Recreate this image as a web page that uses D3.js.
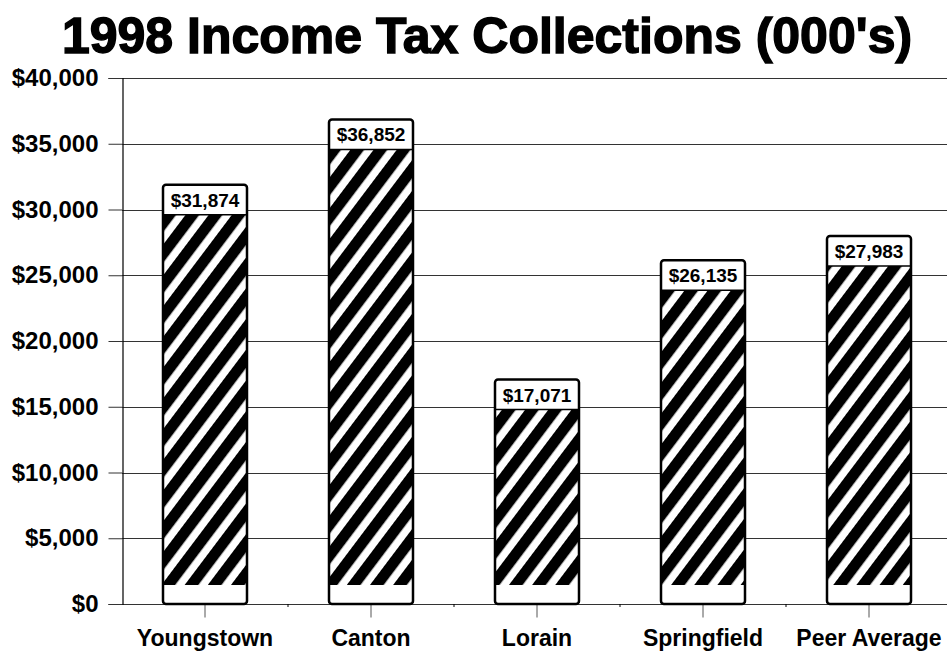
<!DOCTYPE html>
<html>
<head>
<meta charset="utf-8">
<script src="https://cdn.jsdelivr.net/npm/d3@7"></script>
<style>
  html, body { margin: 0; padding: 0; background: #fff; }
  svg { display: block; font-family: "Liberation Sans", Arial, sans-serif; }
</style>
</head>
<body>
<svg id="chart" width="947" height="656"></svg>
<script>
// City income tax collections, thousands of dollars
const cities = ["Youngstown", "Canton", "Lorain", "Springfield", "Peer Average"];
const collections = [31874, 36852, 17071, 26135, 27983];
const yTicks = [0, 5000, 10000, 15000, 20000, 25000, 30000, 35000, 40000];
const chartTitle = "1998 Income Tax Collections (000's)";

const svg = d3.select("#chart");
const margin = { left: 122, right: -5, top: 78, bottom: 52 };
const W = 947, H = 656;

const x = d3.scaleBand()
  .domain(cities)
  .range([margin.left, W - margin.right])
  .paddingInner(0.494)
  .paddingOuter(0.247);

const y = d3.scaleLinear()
  .domain([0, 40000])
  .range([H - margin.bottom, margin.top]);

const fmt = d3.format("$,.0f");

// diagonal hatch fill
const defs = svg.append("defs");
const pat = defs.append("pattern")
  .attr("id", "hatch")
  .attr("patternUnits", "userSpaceOnUse")
  .attr("width", 18.5).attr("height", 18.5)
  .attr("patternTransform", "rotate(37)");
pat.append("rect").attr("width", 18.5).attr("height", 18.5).attr("fill", "#fff");
pat.append("rect").attr("width", 11).attr("height", 18.5).attr("fill", "#000");

// title
svg.append("text")
  .attr("x", 487).attr("y", 53)
  .attr("text-anchor", "middle")
  .attr("font-size", 50).attr("font-weight", "bold")
  .attr("fill", "#000")
  .attr("stroke", "#000").attr("stroke-width", 1.4)
  .text(chartTitle);

// horizontal gridlines
svg.append("g")
  .selectAll("line")
  .data(yTicks)
  .join("line")
  .attr("x1", margin.left).attr("x2", W)
  .attr("y1", d => Math.round(y(d)) + 0.5).attr("y2", d => Math.round(y(d)) + 0.5)
  .attr("stroke", "#333").attr("stroke-width", 1);

// y axis
const yAxis = d3.axisLeft(y)
  .tickValues(yTicks)
  .tickFormat(fmt)
  .tickSize(14)
  .tickPadding(10);
const gy = svg.append("g")
  .attr("transform", `translate(${margin.left + 0.5},0)`)
  .call(yAxis);
gy.select(".domain").attr("stroke", "#000").attr("stroke-width", 1.2);
gy.selectAll(".tick line").attr("stroke", "#333");
gy.selectAll(".tick text")
  .attr("font-family", "'Liberation Sans', Arial, sans-serif")
  .attr("font-size", 24).attr("font-weight", "bold").attr("fill", "#000");

// x axis
const xAxis = d3.axisBottom(x).tickSize(13).tickPadding(12);
const gx = svg.append("g")
  .attr("transform", `translate(0,${Math.round(y(0)) + 0.5})`)
  .call(xAxis);
gx.select(".domain").remove();
gx.selectAll(".tick line").attr("stroke", "#555");
gx.selectAll(".tick text")
  .attr("font-family", "'Liberation Sans', Arial, sans-serif")
  .attr("font-size", 23).attr("font-weight", "bold").attr("fill", "#000");

// small marks at category boundaries
svg.append("g")
  .selectAll("line")
  .data(cities.slice(1))
  .join("line")
  .attr("x1", d => x(d) - x.step() * x.paddingInner() / 2)
  .attr("x2", d => x(d) - x.step() * x.paddingInner() / 2)
  .attr("y1", y(0)).attr("y2", y(0) + 3)
  .attr("stroke", "#000");

// bars
const labelH = 30;
const baseStrip = 19;
const bars = svg.append("g")
  .selectAll("g")
  .data(cities.map((c, i) => ({ city: c, value: collections[i] })))
  .join("g");

bars.append("rect")
  .attr("x", d => x(d.city))
  .attr("y", d => y(d.value))
  .attr("width", x.bandwidth())
  .attr("height", d => y(0) - y(d.value))
  .attr("fill", "#fff");

bars.append("rect")
  .attr("x", d => x(d.city))
  .attr("y", d => y(d.value) + labelH)
  .attr("width", x.bandwidth())
  .attr("height", d => Math.max(0, y(0) - baseStrip - y(d.value) - labelH))
  .attr("fill", "url(#hatch)");

bars.append("line")
  .attr("x1", d => x(d.city)).attr("x2", d => x(d.city) + x.bandwidth())
  .attr("y1", d => y(d.value) + labelH).attr("y2", d => y(d.value) + labelH)
  .attr("stroke", "#000").attr("stroke-width", 1.5);

bars.append("rect")
  .attr("x", d => x(d.city))
  .attr("y", d => y(d.value))
  .attr("width", x.bandwidth())
  .attr("height", d => y(0) - y(d.value))
  .attr("rx", 3)
  .attr("fill", "none")
  .attr("stroke", "#000")
  .attr("stroke-width", 2.5);

bars.append("text")
  .attr("x", d => x(d.city) + x.bandwidth() / 2)
  .attr("y", d => y(d.value) + 22)
  .attr("text-anchor", "middle")
  .attr("font-size", 19).attr("font-weight", "bold")
  .attr("fill", "#000")
  .text(d => fmt(d.value));
</script>
</body>
</html>
